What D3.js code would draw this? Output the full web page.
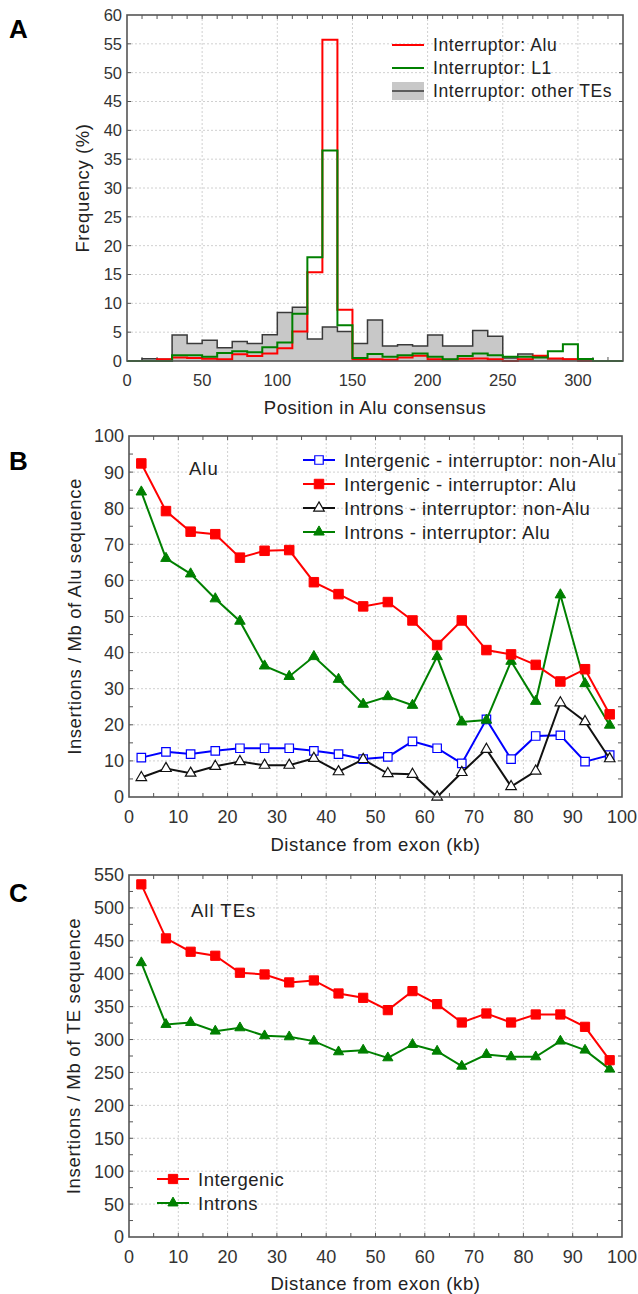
<!DOCTYPE html>
<html>
<head>
<meta charset="utf-8">
<script src="https://cdn.jsdelivr.net/npm/d3@7"></script>
<style>
  body { margin: 0; background: #fff; }
  text { font-family: "Liberation Sans", Arial, sans-serif; }
</style>
</head>
<body>
<div id="chart"></div>
<script>
// ---- Panel A data: histogram of interruption position (bins of 10 nt)
const binStarts = [0, 10, 20, 30, 40, 50, 60, 70, 80, 90, 100, 110, 120, 130, 140, 150, 160,
    170, 180, 190, 200, 210, 220, 230, 240, 250, 260, 270, 280, 290, 300, 310, 320];
const freqOther = [0, 0.4, 0.3, 4.5, 3.05, 3.6, 2.3, 3.4, 3.05, 4.55, 8.4, 9.3, 3.8, 5.9, 5.1, 3.05, 7.1,
    2.6, 2.8, 2.6, 4.5, 2.6, 2.6, 5.3, 4.3, 0.5, 1.2, 0.8, 0.4, 0.3, 0, 0, 0];
const freqAlu = [0, 0, 0.3, 0.6, 0.5, 0.4, 0.3, 1.15, 0.85, 1.3, 2.2, 5.1, 15.4, 55.7, 8.9, 0.3, 0.3,
    0.2, 0.6, 0.9, 0.3, 0.2, 0.4, 0.45, 0.3, 0, 0.3, 0.9, 0.45, 0.3, 0.1, 0, 0];
const freqL1 = [0, 0, 0, 1.0, 1.0, 0.75, 1.4, 1.7, 1.5, 2.4, 3.2, 8.2, 18.0, 36.5, 6.2, 0.5, 1.2,
    0.75, 1.0, 1.3, 0.75, 0.3, 0.87, 1.3, 1.0, 0.75, 0.75, 0.6, 1.7, 2.9, 0.35, 0, 0];

// ---- Panels B and C: distance from exon (kb), bin midpoints
const distance = [2.5, 7.5, 12.5, 17.5, 22.5, 27.5, 32.5, 37.5, 42.5, 47.5,
    52.5, 57.5, 62.5, 67.5, 72.5, 77.5, 82.5, 87.5, 92.5, 97.5];
const interNonAlu = [10.9, 12.5, 11.9, 12.8, 13.5, 13.5, 13.5, 12.8, 11.9, 10.5,
    11.1, 15.4, 13.5, 9.3, 21.5, 10.5, 16.9, 17.1, 9.8, 11.6];
const interAlu = [92.4, 79.2, 73.5, 72.8, 66.3, 68.2, 68.4, 59.5, 56.2, 52.8,
    54.0, 48.9, 42.1, 48.9, 40.7, 39.5, 36.6, 32.0, 35.4, 22.9];
const intronNonAlu = [5.4, 7.9, 6.6, 8.5, 9.8, 8.8, 8.8, 10.7, 7.0, 10.4,
    6.5, 6.3, 0, 6.8, 13.2, 2.9, 7.2, 26.1, 20.9, 10.6];
const intronAlu = [84.5, 66.1, 61.8, 54.9, 48.7, 36.3, 33.4, 38.9, 32.6, 25.7,
    27.8, 25.4, 38.9, 20.8, 21.3, 37.6, 26.5, 56.0, 31.4, 19.9];

const allInter = [535.8, 453.7, 433.4, 427.3, 401.5, 398.9, 386.8, 389.8, 370.0, 363.4,
    344.7, 373.6, 353.8, 325.9, 339.6, 325.9, 338.1, 338.1, 319.3, 268.6];
const allIntron = [416.7, 322.9, 325.9, 312.8, 317.8, 305.7, 304.1, 297.6, 281.3, 283.9,
    272.2, 292.5, 282.3, 259.5, 277.3, 273.7, 273.7, 297.6, 283.9, 255.0];

const W = 638, H = 1294;
const RED = "#ff0000", GREEN = "#008000", BLUE = "#0000ff";
const FRAME = "#555";
const TICK_TXT = "#333";

const svg = d3.select("#chart").append("svg")
    .attr("width", W)
    .attr("height", H);

// Draws grid, inner ticks, tick labels, titles and the panel letter
function drawFrame(g, x, y, opts) {
    const [x0, x1] = x.range();
    const [y0, y1] = y.range(); // y0 bottom, y1 top

    // grid
    g.append("g").selectAll("line")
        .data(opts.xMajor.filter(v => v > x.domain()[0] && v < x.domain()[1]))
        .join("line")
        .attr("x1", d => x(d)).attr("x2", d => x(d))
        .attr("y1", y0).attr("y2", y1)
        .attr("stroke", "#d0d0d0").attr("stroke-dasharray", "2,2");
    g.append("g").selectAll("line")
        .data(opts.yMajor.filter(v => v > y.domain()[0] && v < y.domain()[1]))
        .join("line")
        .attr("x1", x0).attr("x2", x1)
        .attr("y1", d => y(d)).attr("y2", d => y(d))
        .attr("stroke", "#d0d0d0").attr("stroke-dasharray", "2,2");

    // inner ticks on all four sides
    const tl = 4;
    const tk = g.append("g").attr("stroke", FRAME).attr("stroke-width", 1);
    opts.xMinor.forEach(v => {
        tk.append("line").attr("x1", x(v)).attr("x2", x(v)).attr("y1", y0).attr("y2", y0 - tl);
        tk.append("line").attr("x1", x(v)).attr("x2", x(v)).attr("y1", y1).attr("y2", y1 + tl);
    });
    opts.yMinor.forEach(v => {
        tk.append("line").attr("x1", x0).attr("x2", x0 + tl).attr("y1", y(v)).attr("y2", y(v));
        tk.append("line").attr("x1", x1).attr("x2", x1 - tl).attr("y1", y(v)).attr("y2", y(v));
    });

    // tick labels
    g.append("g").selectAll("text")
        .data(opts.xMajor)
        .join("text")
        .attr("x", d => x(d))
        .attr("y", y0 + opts.fs + 8)
        .attr("text-anchor", "middle")
        .attr("fill", TICK_TXT)
        .style("font-size", opts.fs + "px")
        .text(d => d);
    g.append("g").selectAll("text")
        .data(opts.yMajor)
        .join("text")
        .attr("x", x0 - 5)
        .attr("y", d => y(d) + opts.fs * 0.36)
        .attr("text-anchor", "end")
        .attr("fill", TICK_TXT)
        .style("font-size", opts.fs + "px")
        .text(d => d);

    // axis titles
    g.append("text")
        .attr("x", (x0 + x1) / 2)
        .attr("y", y0 + opts.xTitleDy)
        .attr("text-anchor", "middle")
        .attr("fill", "#222")
        .style("font-size", "18.5px")
        .style("letter-spacing", opts.xTitleLs + "px")
        .text(opts.xTitle);
    g.append("text")
        .attr("transform", `translate(${opts.yTitleX},${(y0 + y1) / 2}) rotate(-90)`)
        .attr("text-anchor", "middle")
        .attr("fill", "#222")
        .style("font-size", "18.5px")
        .style("letter-spacing", opts.yTitleLs + "px")
        .text(opts.yTitle);

    // panel letter
    g.append("text")
        .attr("x", opts.letterPos[0])
        .attr("y", opts.letterPos[1])
        .style("font-size", "26px")
        .style("font-weight", "bold")
        .text(opts.letter);
}

function drawBorder(g, x, y) {
    const [x0, x1] = x.range();
    const [y0, y1] = y.range();
    g.append("rect")
        .attr("x", x0).attr("y", y1)
        .attr("width", x1 - x0).attr("height", y0 - y1)
        .attr("fill", "none")
        .attr("stroke", FRAME)
        .attr("stroke-width", 1.6);
}

// marker drawing helpers
const symSquare = d3.symbol().type(d3.symbolSquare);
const symTriangle = d3.symbol().type(d3.symbolTriangle);

function drawSeries(g, x, y, xs, ys, s) {
    const pts = xs.map((d, i) => [d, ys[i]]);
    g.append("path")
        .datum(pts)
        .attr("fill", "none")
        .attr("stroke", s.color)
        .attr("stroke-width", s.lw || 2)
        .attr("d", d3.line().x(d => x(d[0])).y(d => y(d[1])));
    g.append("g").selectAll("path")
        .data(pts)
        .join("path")
        .attr("transform", d => `translate(${x(d[0])},${y(d[1])})`)
        .attr("d", (s.shape === "square" ? symSquare : symTriangle).size(s.size)())
        .attr("fill", s.open ? "#fff" : s.color)
        .attr("stroke", s.color)
        .attr("stroke-width", s.open ? 1.2 : 1);
}

function legendRow(g, lx, ly, s, label, fs, ls) {
    g.append("line")
        .attr("x1", lx).attr("x2", lx + 32)
        .attr("y1", ly).attr("y2", ly)
        .attr("stroke", s.color).attr("stroke-width", s.lw || 2);
    if (s.shape) {
        g.append("path")
            .attr("transform", `translate(${lx + 16},${ly})`)
            .attr("d", (s.shape === "square" ? symSquare : symTriangle).size(s.size)())
            .attr("fill", s.open ? "#fff" : s.color)
            .attr("stroke", s.color)
            .attr("stroke-width", s.open ? 1.2 : 1);
    }
    g.append("text")
        .attr("x", lx + 41)
        .attr("y", ly + fs * 0.36)
        .attr("fill", "#222")
        .style("font-size", fs + "px")
        .style("letter-spacing", ls + "px")
        .text(label);
}

// ================= Panel A =================
{
    const g = svg.append("g");
    const x = d3.scaleLinear().domain([0, 330]).range([127, 623]);
    const y = d3.scaleLinear().domain([0, 60]).range([361, 15]);

    drawFrame(g, x, y, {
        xMajor: [0, 50, 100, 150, 200, 250, 300],
        yMajor: d3.range(0, 61, 5),
        xMinor: d3.range(10, 330, 10),
        yMinor: d3.range(5, 60, 5),
        fs: 16.5,
        xTitle: "Position in Alu consensus", xTitleDy: 53, xTitleLs: 0.5,
        yTitle: "Frequency (%)", yTitleX: 89, yTitleLs: 0.6,
        letter: "A", letterPos: [9, 38]
    });

    const stepPts = vals => {
        const p = binStarts.map((b, i) => [b, vals[i]]);
        p.push([330, vals[vals.length - 1]]);
        return p;
    };

    // other TEs: grey filled step area
    g.append("path")
        .datum(stepPts(freqOther))
        .attr("fill", "#c8c8c8")
        .attr("d", d3.area().curve(d3.curveStepAfter)
            .x(d => x(d[0])).y0(y(0)).y1(d => y(d[1])));
    g.append("path")
        .datum(stepPts(freqOther))
        .attr("fill", "none")
        .attr("stroke", "#3a3a3a")
        .attr("stroke-width", 1.5)
        .attr("d", d3.line().curve(d3.curveStepAfter).x(d => x(d[0])).y(d => y(d[1])));

    [[freqAlu, RED], [freqL1, GREEN]].forEach(([vals, col]) => {
        g.append("path")
            .datum(stepPts(vals))
            .attr("fill", "none")
            .attr("stroke", col)
            .attr("stroke-width", 2)
            .attr("d", d3.line().curve(d3.curveStepAfter).x(d => x(d[0])).y(d => y(d[1])));
    });

    drawBorder(g, x, y);

    // legend
    const lg = g.append("g");
    legendRow(lg, 392, 45, {color: RED}, "Interruptor: Alu", 17.5, 0.6);
    legendRow(lg, 392, 68, {color: GREEN}, "Interruptor: L1", 17.5, 0.6);
    lg.append("rect").attr("x", 392).attr("y", 82).attr("width", 32).attr("height", 18)
        .attr("fill", "#c8c8c8");
    legendRow(lg, 392, 91, {color: "#3a3a3a", lw: 1.5}, "Interruptor: other TEs", 17.5, 0.6);
}

// ================= Panel B =================
{
    const g = svg.append("g");
    const x = d3.scaleLinear().domain([0, 100]).range([129, 622]);
    const y = d3.scaleLinear().domain([0, 100]).range([797, 436]);

    drawFrame(g, x, y, {
        xMajor: d3.range(0, 101, 10),
        yMajor: d3.range(0, 101, 10),
        xMinor: d3.range(5, 100, 5),
        yMinor: d3.range(5, 100, 5),
        fs: 18,
        xTitle: "Distance from exon (kb)", xTitleDy: 54, xTitleLs: 0.6,
        yTitle: "Insertions / Mb of Alu sequence", yTitleX: 81, yTitleLs: 0.6,
        letter: "B", letterPos: [9, 470]
    });

    const sBlue = {color: BLUE, shape: "square", size: 72, open: true};
    const sRed = {color: RED, shape: "square", size: 90};
    const sBlack = {color: "#111", shape: "triangle", size: 48, open: true};
    const sGreen = {color: GREEN, shape: "triangle", size: 48};

    drawSeries(g, x, y, distance, interNonAlu, sBlue);
    drawSeries(g, x, y, distance, intronNonAlu, sBlack);
    drawSeries(g, x, y, distance, intronAlu, sGreen);
    drawSeries(g, x, y, distance, interAlu, sRed);

    drawBorder(g, x, y);

    g.append("text").attr("x", 189).attr("y", 475)
        .attr("fill", "#222").style("font-size", "18.5px").style("letter-spacing", "1px").text("Alu");

    const lg = g.append("g");
    legendRow(lg, 303, 460, sBlue, "Intergenic - interruptor: non-Alu", 18.5, 0.5);
    legendRow(lg, 303, 484, sRed, "Intergenic - interruptor: Alu", 18.5, 0.5);
    legendRow(lg, 303, 508, sBlack, "Introns - interruptor: non-Alu", 18.5, 0.5);
    legendRow(lg, 303, 532, sGreen, "Introns - interruptor: Alu", 18.5, 0.5);
}

// ================= Panel C =================
{
    const g = svg.append("g");
    const x = d3.scaleLinear().domain([0, 100]).range([129, 622]);
    const y = d3.scaleLinear().domain([0, 550]).range([1237, 875]);

    drawFrame(g, x, y, {
        xMajor: d3.range(0, 101, 10),
        yMajor: d3.range(0, 551, 50),
        xMinor: d3.range(5, 100, 5),
        yMinor: d3.range(25, 550, 25),
        fs: 18,
        xTitle: "Distance from exon (kb)", xTitleDy: 53, xTitleLs: 0.6,
        yTitle: "Insertions / Mb of TE sequence", yTitleX: 80, yTitleLs: 0.7,
        letter: "C", letterPos: [9, 902]
    });

    const sRed = {color: RED, shape: "square", size: 85};
    const sGreen = {color: GREEN, shape: "triangle", size: 45};

    drawSeries(g, x, y, distance, allIntron, sGreen);
    drawSeries(g, x, y, distance, allInter, sRed);

    drawBorder(g, x, y);

    g.append("text").attr("x", 191).attr("y", 917)
        .attr("fill", "#222").style("font-size", "18.5px").style("letter-spacing", "1px").text("All TEs");

    const lg = g.append("g");
    legendRow(lg, 157, 1179, sRed, "Intergenic", 18.5, 0.5);
    legendRow(lg, 157, 1203, sGreen, "Introns", 18.5, 0.5);
}
</script>
</body>
</html>
